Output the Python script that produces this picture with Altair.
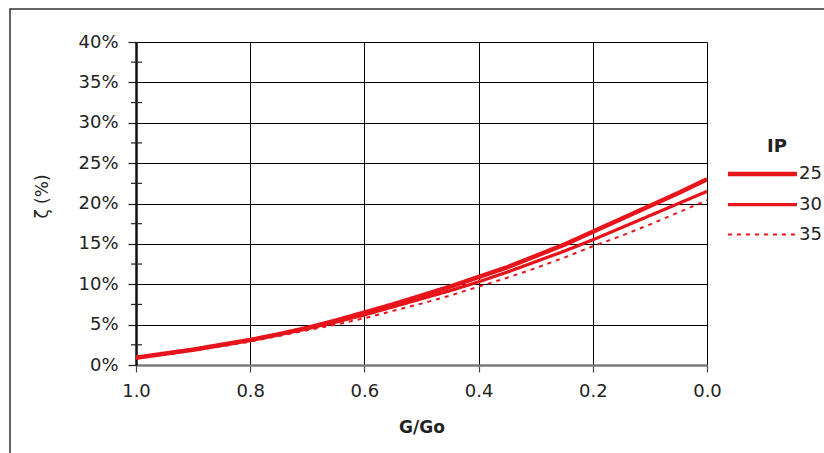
import altair as alt
import pandas as pd

# ---- data ----
g_go = [1.0, 0.95, 0.9, 0.85, 0.8, 0.75, 0.7, 0.65, 0.6, 0.55, 0.5,
        0.45, 0.4, 0.35, 0.3, 0.25, 0.2, 0.15, 0.1, 0.05, 0.0]
ip25 = [0.9, 1.4, 1.9, 2.5, 3.1, 3.8, 4.6, 5.5, 6.5, 7.5, 8.6,
        9.7, 10.9, 12.1, 13.5, 14.9, 16.5, 18.1, 19.7, 21.3, 23.0]
ip30 = [0.9, 1.4, 1.9, 2.5, 3.1, 3.8, 4.5, 5.3, 6.2, 7.2, 8.2,
        9.2, 10.3, 11.5, 12.8, 14.1, 15.5, 17.0, 18.5, 20.0, 21.5]
ip35 = [0.9, 1.3, 1.8, 2.3, 2.9, 3.6, 4.3, 5.0, 5.8, 6.7, 7.6,
        8.6, 9.7, 10.8, 12.0, 13.3, 14.7, 16.0, 17.4, 18.9, 20.4]
series = ["25", "30", "35"]
x_ticks = [0.0, 0.2, 0.4, 0.6, 0.8, 1.0]
y_ticks = [0, 5, 10, 15, 20, 25, 30, 35, 40]
y_minor = [2.5, 7.5, 12.5, 17.5, 22.5, 27.5, 32.5, 37.5]

rows = []
for name, vals in zip(series, [ip25, ip30, ip35]):
    for g, v in zip(g_go, vals):
        rows.append({"G": g, "zeta": v / 100.0, "IP": name})
df = pd.DataFrame(rows)
minor_df = pd.DataFrame({"y": [v / 100.0 for v in y_minor]})

RED = "#e8141b"
FONT = "DejaVu Sans"

xscale = alt.Scale(domain=[1.0, 0.0], nice=False, zero=False)
yscale = alt.Scale(domain=[0, 0.4], nice=False)

legend = alt.Legend(
    title="IP", orient="none", legendX=596, legendY=96,
    symbolType="M-1.57,0H4.43", symbolSize=529, symbolStrokeColor=RED,
    rowPadding=8, labelFontSize=18, labelFont=FONT, labelColor="#222222",
    labelOffset=39, titleFont=FONT, titleFontSize=18, titleFontWeight="bold",
    titleColor="#222222", titleAnchor="middle", titlePadding=4,
)

lines = alt.Chart(df).mark_line(color=RED, clip=True).encode(
    x=alt.X("G:Q", scale=xscale,
            axis=alt.Axis(title="G/Go", values=x_ticks, format=".1f",
                          grid=True, gridColor="#000000", gridWidth=1,
                          domainColor="#7a7a7a", domainWidth=2.5,
                          tickColor="#444444", tickSize=7, tickWidth=1.2,
                          labelFontSize=18, labelFont=FONT, labelColor="#222222",
                          labelPadding=10, labelFlush=False, labelOverlap=False,
                          titleFont=FONT, titleFontSize=17, titleFontWeight="bold",
                          titleColor="#222222", titleY=67, titleBaseline="alphabetic")),
    y=alt.Y("zeta:Q", scale=yscale,
            axis=alt.Axis(title="ζ (%)", values=[v / 100.0 for v in y_ticks], format=".0%",
                          grid=True, gridColor="#000000", gridWidth=1,
                          domainColor="#111111", domainWidth=2.5,
                          tickColor="#222222", tickSize=8, tickWidth=1.2,
                          labelFontSize=18, labelFont=FONT, labelColor="#222222",
                          labelPadding=10, labelFlush=False, labelOverlap=False,
                          titleFont=FONT, titleFontSize=17, titleFontWeight="normal",
                          titleColor="#222222", titleAngle=270, titleX=-89, titleY=154,
                          titleBaseline="alphabetic", titleAlign="center")),
    strokeWidth=alt.StrokeWidth("IP:O", scale=alt.Scale(domain=series, range=[4.5, 2, 2.5]),
                                legend=legend),
    strokeDash=alt.StrokeDash("IP:O", scale=alt.Scale(domain=series, range=[[1, 0], [1, 0], [4, 5]]),
                              legend=legend),
    detail="IP:N",
)

minor = alt.Chart(minor_df).mark_rule(color="#222222", strokeWidth=1.2).encode(
    x=alt.value(-5), x2=alt.value(6), y=alt.Y("y:Q", scale=yscale)
)

frame = alt.Chart(pd.DataFrame({"a": [0]})).mark_rect(
    fill=None, stroke="#333333", strokeWidth=1.5
).encode(x=alt.value(-126), x2=alt.value(800), y=alt.value(-33), y2=alt.value(480))

chart = alt.layer(frame, lines, minor).properties(
    width=571, height=323,
    autosize=alt.AutoSizeParams(type="none"),
    padding={"left": 136, "top": 42, "right": 117, "bottom": 88},
).configure_view(
    stroke="#8a8a8a", strokeWidth=2.5
).configure(background="white")

chart.save("out.html", embed_options={"renderer": "svg", "actions": False})
